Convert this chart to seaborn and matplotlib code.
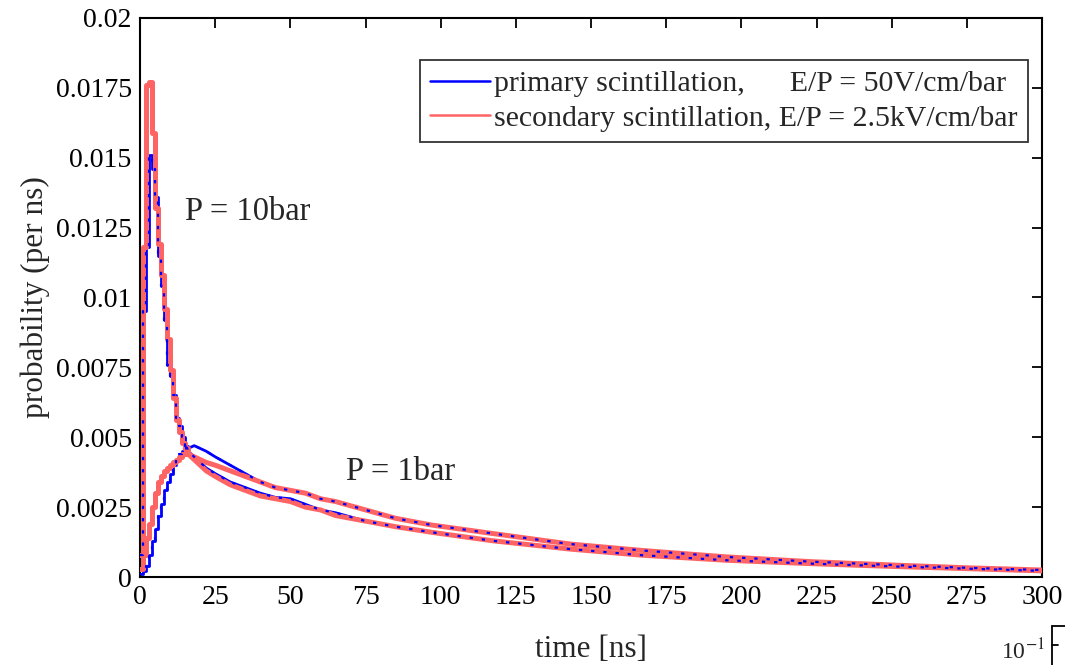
import numpy as np
import pandas as pd
import matplotlib
matplotlib.use("Agg")
import matplotlib.pyplot as plt
from matplotlib.lines import Line2D
import seaborn as sns

# ---------------- data ----------------
# P = 10 bar (fast decaying curves)
t_10bar = [0, 1, 2, 3, 4, 5, 6, 7, 8, 9, 10, 11, 12, 13, 14, 15, 16, 18, 20, 22,
           25, 30, 35, 40, 45, 50, 55, 60, 65, 75, 85, 97, 117, 143, 167, 195,
           223, 250, 275, 300]
primary_10bar = [0.0008, 0.0095, 0.0118, 0.0151, 0.0146, 0.0136, 0.0115, 0.0104,
                 0.0092, 0.0076, 0.0072, 0.0065, 0.0057, 0.0054, 0.0050, 0.0047,
                 0.0045, 0.0043, 0.0041, 0.0039, 0.0037, 0.0034, 0.0032, 0.0030,
                 0.00285, 0.0028, 0.0026, 0.0024, 0.0023, 0.0020, 0.0018, 0.0016,
                 0.0013, 0.0010, 0.00078, 0.0006, 0.00048, 0.00038, 0.0003, 0.00022]
secondary_10bar = [0.0008, 0.0118, 0.0176, 0.0177, 0.0159, 0.0132, 0.0119, 0.0108,
                   0.0096, 0.0085, 0.0074, 0.0064, 0.0056, 0.0052, 0.0048, 0.0046,
                   0.0044, 0.0042, 0.0040, 0.0038, 0.0036, 0.0033, 0.0031, 0.0029,
                   0.0028, 0.0027, 0.0025, 0.0024, 0.0022, 0.0020, 0.0018, 0.0016,
                   0.0013, 0.0010, 0.00078, 0.0006, 0.00048, 0.00038, 0.0003, 0.00022]

# P = 1 bar (slow rise, slow decay)
t_1bar = [0, 1, 2, 3, 4, 5, 6, 7, 8, 9, 10, 11, 12, 13, 14, 15, 16, 18, 20, 22,
          25, 30, 35, 40, 45, 50, 55, 60, 65, 75, 85, 97, 117, 143, 167, 195,
          223, 250, 275, 300]
primary_1bar = [0.0001, 0.0002, 0.0004, 0.0008, 0.0013, 0.0017, 0.0022, 0.0026,
                0.0031, 0.0034, 0.0037, 0.0040, 0.0042, 0.0044, 0.0045, 0.0046,
                0.0046, 0.0047, 0.0046, 0.0045, 0.0043, 0.0040, 0.0037, 0.0034,
                0.0032, 0.0031, 0.0030, 0.0028, 0.0027, 0.0024, 0.0021, 0.00186,
                0.00156, 0.00118, 0.00095, 0.00072, 0.00055, 0.00043, 0.00033, 0.00025]
secondary_1bar = [0.0003, 0.0008, 0.0014, 0.0019, 0.0025, 0.0030, 0.0034, 0.0036,
                  0.0038, 0.0039, 0.0040, 0.0041, 0.0042, 0.0043, 0.0044, 0.0044,
                  0.0044, 0.0043, 0.0042, 0.0041, 0.0040, 0.0038, 0.0036, 0.0034,
                  0.0032, 0.0031, 0.0030, 0.0028, 0.0027, 0.0024, 0.0021, 0.00186,
                  0.00156, 0.00118, 0.00095, 0.00072, 0.00055, 0.00043, 0.00033, 0.00025]

x_ticks = [0, 25, 50, 75, 100, 125, 150, 175, 200, 225, 250, 275, 300]
y_ticks = [0, 0.0025, 0.005, 0.0075, 0.01, 0.0125, 0.015, 0.0175, 0.02]
y_tick_labels = ["0", "0.0025", "0.005", "0.0075", "0.01", "0.0125", "0.015", "0.0175", "0.02"]

label_primary = "primary scintillation,      E/P = 50V/cm/bar"
label_secondary = "secondary scintillation, E/P = 2.5kV/cm/bar"

# ---------------- style ----------------
sns.set_theme(style="white")
plt.rcParams["font.family"] = ["Liberation Serif", "DejaVu Serif"]
plt.rcParams["mathtext.fontset"] = "stix"

BLUE = "#0000ff"
RED = "#ff6464"
STEP_END = 16  # histogram-like steps for the fast early part, lines after

fig = plt.figure(figsize=(10.65, 6.65), dpi=100)
ax = fig.add_axes([0.1315, 0.1323, 0.847, 0.8407])

df10 = pd.DataFrame({"t": t_10bar, "prim": primary_10bar, "sec": secondary_10bar})
df1 = pd.DataFrame({"t": t_1bar, "prim": primary_1bar, "sec": secondary_1bar})


def draw(col, color, lw, z, ls="-"):
    for d in (df10, df1):
        early = d[d["t"] <= STEP_END]
        late = d[d["t"] >= STEP_END - 1]
        sns.lineplot(data=early, x="t", y=col, ax=ax, color=color, lw=lw,
                     drawstyle="steps-post", estimator=None, sort=False,
                     zorder=z, linestyle=ls)
        sns.lineplot(data=late, x="t", y=col, ax=ax, color=color, lw=lw,
                     estimator=None, sort=False, zorder=z, linestyle=ls)


draw("prim", BLUE, 2.0, 2)
draw("sec", RED, 3.6, 3)
draw("prim", BLUE, 1.6, 4, ls=(0, (1.5, 4)))

ax.set_xlim(0, 300)
ax.set_ylim(0, 0.02)
ax.set_xticks(x_ticks)
ax.set_xticklabels([str(v) for v in x_ticks])
ax.set_yticks(y_ticks)
ax.set_yticklabels(y_tick_labels)
ax.tick_params(direction="in", length=7, width=1.3, top=True, right=True,
               labelsize=20, colors="black", pad=6)
for s in ax.spines.values():
    s.set_visible(True)
    s.set_color("black")
    s.set_linewidth(1.5)

ax.set_xlabel("time [ns]", fontsize=22.5, labelpad=18)
ax.set_ylabel("probability (per ns)", fontsize=22.5, labelpad=4)

ax.text(15, 0.01306, "P = 10bar", fontsize=23.5, va="center", ha="left")
ax.text(68.5, 0.00376, "P = 1bar", fontsize=23.5, va="center", ha="left")

handles = [Line2D([], [], color=BLUE, lw=1.8), Line2D([], [], color=RED, lw=1.8)]
leg = ax.legend(handles, [label_primary, label_secondary], loc="upper right",
                bbox_to_anchor=(0.9845, 0.925), fontsize=21.5, frameon=True,
                fancybox=False, edgecolor="black", handlelength=2.0,
                handletextpad=0.15, borderpad=0.35, labelspacing=0.25,
                borderaxespad=0)
leg.get_frame().set_linewidth(1.3)

# fragment of neighbouring plot at bottom-right corner
fig.add_artist(Line2D([1052 / 1065, 1052 / 1065], [0, 1 - 626 / 665],
                      transform=fig.transFigure, color="black", lw=1.3))
fig.add_artist(Line2D([1052 / 1065, 1], [1 - 626 / 665, 1 - 626 / 665],
                      transform=fig.transFigure, color="black", lw=1.3))
fig.add_artist(Line2D([1052 / 1065, 1058 / 1065], [1 - 645 / 665, 1 - 645 / 665],
                      transform=fig.transFigure, color="black", lw=1.3))
fig.text(1045 / 1065, 0.5 / 665, r"10$^{-1}$", fontsize=17, ha="right", va="bottom")

fig.savefig("out.png", dpi=100)
